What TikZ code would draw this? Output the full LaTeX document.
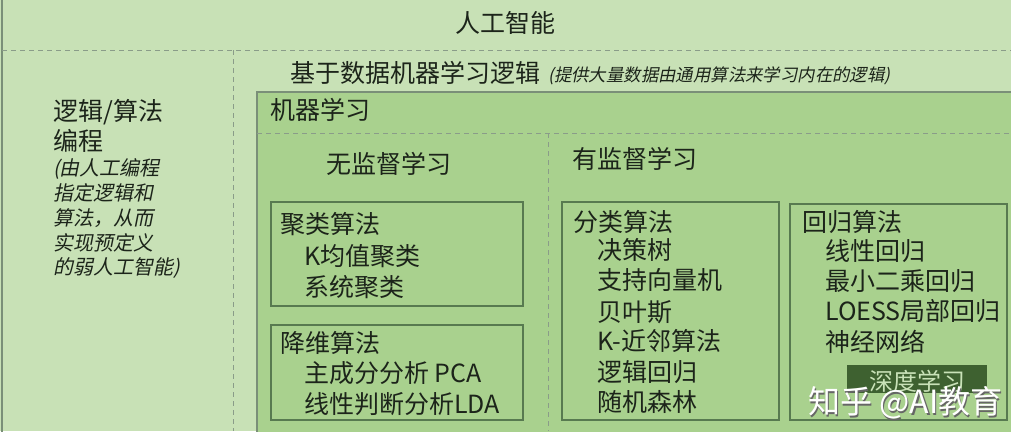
\documentclass[tikz,border=0pt]{standalone}
\usepackage{fontspec}
\setmainfont{Noto Sans CJK SC}
\newfontfamily\slantfont[FakeSlant=0.2]{Noto Sans CJK SC}
\definecolor{outerbg}{HTML}{C8E1B6}
\definecolor{mlbg}{HTML}{A9D18E}
\definecolor{frameline}{HTML}{7A8F78}
\definecolor{boxline}{HTML}{587A50}
\definecolor{dashline}{HTML}{8A9C89}
\definecolor{deepbg}{HTML}{3E6130}
\definecolor{deeptext}{HTML}{C9E2B8}
\definecolor{inktext}{HTML}{1C241A}

\begin{document}
\begin{tikzpicture}
[
	x=1pt,y=-1pt,
	txt/.style={anchor=west,inner sep=0pt,text=inktext,font=\fontsize{25}{30}\selectfont},
	note/.style={anchor=west,inner sep=0pt,text=inktext,font=\slantfont\fontsize{20}{24}\selectfont},
	divider/.style={dashline,dash pattern=on 5pt off 4pt,line width=1pt},
	algbox/.style={boxline,line width=1.3pt}
]

	\useasboundingbox (0,0) rectangle (1011,431);
	\fill[outerbg] (0,0) rectangle (1011,431);
	\draw[frameline,line width=2pt] (2,-5) -- (2,436);

	% machine learning panel
	\filldraw[fill=mlbg,draw=frameline,line width=1.6pt] (257,92) rectangle (1020,440);

	\draw[divider] (2,50) -- (1011,50);
	\draw[divider] (233,50) -- (233,431);
	\draw[divider] (257,133) -- (1011,133);
	\draw[divider] (548,133) -- (548,431);

	\draw[algbox] (271,202) rectangle (523,306);
	\draw[algbox] (271,325) rectangle (523,420);
	\draw[algbox] (562,202) rectangle (779,420);
	\draw[algbox] (790,204) rectangle (1007,420);
	\fill[deepbg] (847,365) rectangle (987,393);

	\node[txt,anchor=center] (ai) at (505,23) {人工智能};

	\node[txt] (logic) at (53,112) {逻辑/算法};
	\node[txt] (logic2) at (53,141) {编程};
	\node[note] (why1) at (53,169) {(由人工编程};
	\node[note] (why2) at (53,193) {指定逻辑和};
	\node[note] (why3) at (53,218) {算法，从而};
	\node[note] (why4) at (53,243) {实现预定义};
	\node[note] (why5) at (53,268) {的弱人工智能)};

	\node[txt] (data) at (290,73) {基于数据机器学习逻辑};
	\node[note,font=\slantfont\fontsize{17.4}{20}\selectfont] (datanote) at (548,76) {(提供大量数据由通用算法来学习内在的逻辑)};

	\node[txt] (ml) at (270,110) {机器学习};
	\node[txt] (unsup) at (326,164) {无监督学习};
	\node[txt] (sup) at (572,159) {有监督学习};

	% unsupervised
	\node[txt] (clu) at (280,224) {聚类算法};
	\node[txt] (clu1) at (304,256) {K均值聚类};
	\node[txt] (clu2) at (304,287) {系统聚类};
	\node[txt] (dim) at (280,343) {降维算法};
	\node[txt] (dim1) at (304,373) {主成分分析 PCA};
	\node[txt] (dim2) at (304,404) {线性判断分析LDA};

	% supervised
	\node[txt] (cls) at (573,222) {分类算法};
	\node[txt] (cls1) at (597,250) {决策树};
	\node[txt] (cls2) at (597,280) {支持向量机};
	\node[txt] (cls3) at (597,312) {贝叶斯};
	\node[txt] (cls4) at (597,341) {K-近邻算法};
	\node[txt] (cls5) at (597,372) {逻辑回归};
	\node[txt] (cls6) at (597,402) {随机森林};

	\node[txt] (reg) at (802,222) {回归算法};
	\node[txt] (reg1) at (825,251) {线性回归};
	\node[txt] (reg2) at (825,281) {最小二乘回归};
	\node[txt] (reg3) at (825,311) {LOESS局部回归};
	\node[txt] (reg4) at (825,342) {神经网络};
	\node[txt,anchor=center,text=deeptext,font=\fontsize{24}{28}\selectfont] (deep) at (917,381) {深度学习};

	\node[txt,text=black!60,font=\fontsize{32}{36}\selectfont] (markshadow) at (809.5,404.5) {知乎 @AI教育};
	\node[txt,text=white,font=\fontsize{32}{36}\selectfont] (mark) at (808,403) {知乎 @AI教育};

\end{tikzpicture}
\end{document}
